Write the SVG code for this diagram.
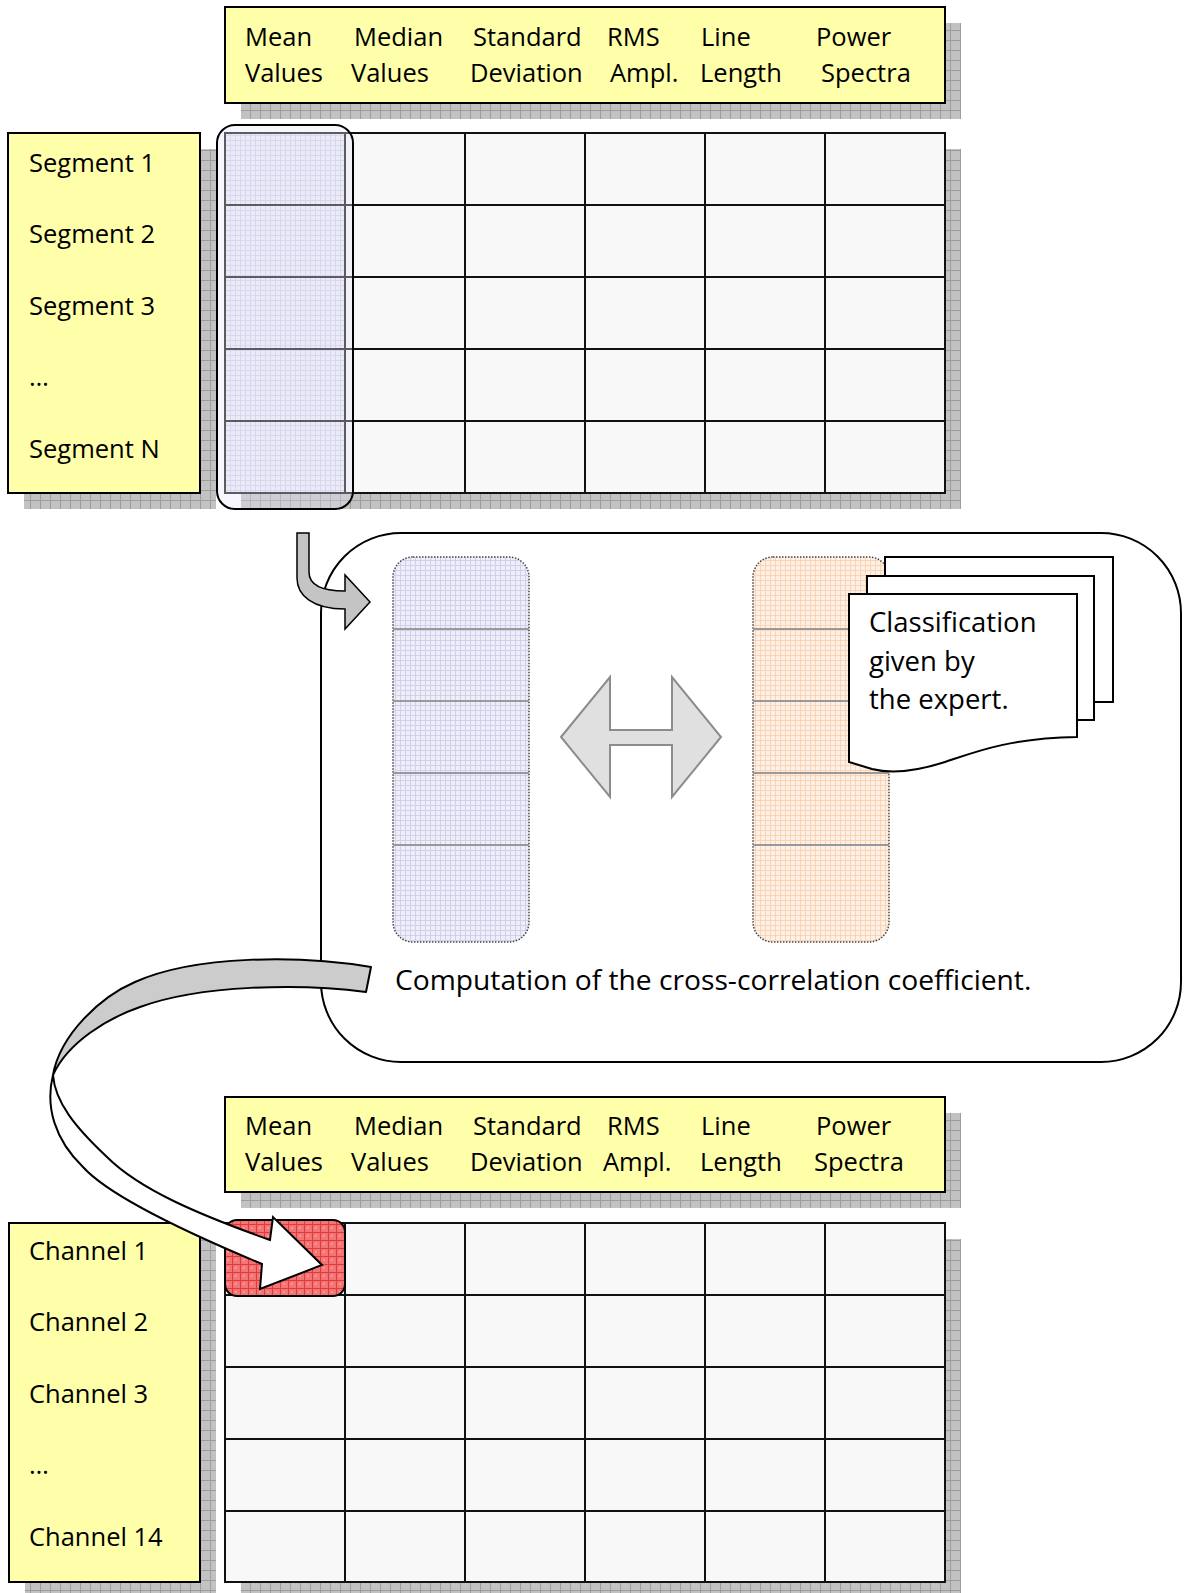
<svg xmlns="http://www.w3.org/2000/svg" width="1184" height="1593" viewBox="0 0 1184 1593">
  <style>
    .t{font-family:"Open Sans","Liberation Sans",sans-serif;font-size:25.5px;fill:#000}
    .tb{font-family:"Open Sans","Liberation Sans",sans-serif;font-size:27.5px;fill:#000}
    .box{fill:#ffffaa;stroke:#000;stroke-width:2}
    .shadow{fill:url(#shadowPat)}
    .cells{fill:#f8f8f8;stroke:#111;stroke-width:2}
    .grid{stroke:#111;stroke-width:2;fill:none}
    .sub{stroke:#999;stroke-width:2;fill:none}
    .page{fill:#fff;stroke:#000;stroke-width:2}
  </style>
  <defs>
    <pattern id="shadowPat" width="10" height="10" patternUnits="userSpaceOnUse">
      <rect width="10" height="10" fill="#c2c2c2"/>
      <path d="M0 0.5H10M0.5 0V10" stroke="#9c9c9c" stroke-width="1"/>
    </pattern>
    <pattern id="lavPat" width="5" height="5" patternUnits="userSpaceOnUse">
      <rect width="5" height="5" fill="#eeeef9"/>
      <path d="M0 0.5H5M0.5 0V5" stroke="#d0d0ec" stroke-width="1"/>
    </pattern>
    <pattern id="orPat" width="5" height="5" patternUnits="userSpaceOnUse">
      <rect width="5" height="5" fill="#fef0e4"/>
      <path d="M0 0.5H5M0.5 0V5" stroke="#fad4b6" stroke-width="1"/>
    </pattern>
    <pattern id="redPat" width="8" height="8" patternUnits="userSpaceOnUse">
      <rect width="8" height="8" fill="#f37474"/>
      <path d="M0 0.5H8M0.5 0V8" stroke="#e03a3a" stroke-width="1"/>
      <circle cx="4" cy="4" r="0.8" fill="#fbc8c8"/>
    </pattern>
  </defs>

  <!-- column headers, top table -->
  <g id="header-top">
    <rect class="shadow" x="241" y="23" width="720" height="96"/>
    <rect class="box" x="225" y="7" width="720" height="96"/>
    <text class="t" x="245" y="46">Mean</text>
    <text class="t" x="354" y="46">Median</text>
    <text class="t" x="473" y="46">Standard</text>
    <text class="t" x="607" y="46">RMS</text>
    <text class="t" x="701" y="46">Line</text>
    <text class="t" x="816" y="46">Power</text>
    <text class="t" x="245" y="82">Values</text>
    <text class="t" x="351" y="82">Values</text>
    <text class="t" x="470" y="82">Deviation</text>
    <text class="t" x="610" y="82">Ampl.</text>
    <text class="t" x="700" y="82">Length</text>
    <text class="t" x="821" y="82">Spectra</text>
  </g>

  <!-- row labels, top table -->
  <g id="segments">
    <rect class="shadow" x="24" y="149" width="192" height="360"/>
    <rect class="box" x="8" y="133" width="192" height="360"/>
    <text class="t" x="29" y="172">Segment 1</text>
    <text class="t" x="29" y="243">Segment 2</text>
    <text class="t" x="29" y="315">Segment 3</text>
    <text class="t" x="29" y="386">…</text>
    <text class="t" x="29" y="458">Segment N</text>
  </g>

  <!-- feature table, segments -->
  <g id="table-top">
    <rect class="shadow" x="241" y="149" width="720" height="360"/>
    <rect class="cells" x="225" y="133" width="720" height="360"/>
    <rect x="225" y="133" width="120" height="360" fill="url(#lavPat)"/>
    <path class="grid" d="M225 133H945V493H225ZM345 133V493M465 133V493M585 133V493M705 133V493M825 133V493M225 205H945M225 277H945M225 349H945M225 421H945"/>
  </g>

  <!-- selected column -->
  <g id="column-highlight">
    <rect x="217" y="125" width="136" height="384" rx="18" fill="#e4e4f6" fill-opacity="0.35" stroke="#000" stroke-width="2"/>
  </g>

  <!-- correlation step -->
  <g id="correlation">
    <rect x="321" y="533" width="860" height="529" rx="80" fill="#fff" stroke="#000" stroke-width="2"/>
    <g id="feature-column">
      <rect x="393" y="557" width="136" height="385" rx="20" fill="url(#lavPat)" stroke="#444" stroke-width="1.5" stroke-dasharray="1.5 1.5"/>
      <path class="sub" d="M393 629H529M393 701H529M393 773H529M393 845H529"/>
    </g>
    <g id="expert-column">
      <rect x="753" y="557" width="136" height="385" rx="20" fill="url(#orPat)" stroke="#444" stroke-width="1.5" stroke-dasharray="1.5 1.5"/>
      <path class="sub" d="M753 629H889M753 701H889M753 773H889M753 845H889"/>
    </g>
    <path id="compare-arrow" d="M561 737L610 677V730H672V677L721 737L672 797V745H610V797Z" fill="#e0e0e0" stroke="#8c8c8c" stroke-width="2" stroke-linejoin="miter"/>
    <g id="expert-docs">
      <rect class="page" x="885" y="557" width="228" height="145"/>
      <rect class="page" x="867" y="576" width="227" height="144"/>
      <path class="page" d="M849 594H1077V737C1010 738 975 752 945 762C920 770 895 775 872 769L849 762Z"/>
      <text class="tb" x="869" y="632">Classification</text>
      <text class="tb" x="869" y="671">given by</text>
      <text class="tb" x="869" y="709">the expert.</text>
    </g>
    <text class="tb" x="395" y="990" style="font-size:28.2px">Computation of the cross-correlation coefficient.</text>
  </g>

  <!-- column headers, bottom table -->
  <g id="header-bottom">
    <rect class="shadow" x="241" y="1113" width="720" height="95"/>
    <rect class="box" x="225" y="1097" width="720" height="95"/>
    <text class="t" x="245" y="1135">Mean</text>
    <text class="t" x="354" y="1135">Median</text>
    <text class="t" x="473" y="1135">Standard</text>
    <text class="t" x="607" y="1135">RMS</text>
    <text class="t" x="701" y="1135">Line</text>
    <text class="t" x="816" y="1135">Power</text>
    <text class="t" x="245" y="1171">Values</text>
    <text class="t" x="351" y="1171">Values</text>
    <text class="t" x="470" y="1171">Deviation</text>
    <text class="t" x="603" y="1171">Ampl.</text>
    <text class="t" x="700" y="1171">Length</text>
    <text class="t" x="814" y="1171">Spectra</text>
  </g>

  <!-- row labels, bottom table -->
  <g id="channels">
    <rect class="shadow" x="25" y="1239" width="191" height="360"/>
    <rect class="box" x="9" y="1223" width="191" height="359"/>
    <text class="t" x="29" y="1260">Channel 1</text>
    <text class="t" x="29" y="1331">Channel 2</text>
    <text class="t" x="29" y="1403">Channel 3</text>
    <text class="t" x="29" y="1474">…</text>
    <text class="t" x="29" y="1546">Channel 14</text>
  </g>

  <!-- feature table, channels -->
  <g id="table-bottom">
    <rect class="shadow" x="241" y="1239" width="720" height="360"/>
    <rect class="cells" x="225" y="1223" width="720" height="359"/>
    <path class="grid" d="M225 1223H945V1582H225ZM345 1223V1582M465 1223V1582M585 1223V1582M705 1223V1582M825 1223V1582M225 1295H945M225 1367H945M225 1439H945M225 1511H945"/>
  </g>

  <!-- resulting coefficient -->
  <g id="cell-highlight">
    <rect x="225" y="1220" width="120" height="76" rx="12" fill="url(#redPat)" stroke="#000" stroke-width="2"/>
  </g>

  <g id="connectors">
    <!-- column taken into the correlation step -->
    <path d="M297 533V578C297 595 312 609 345 609V629L370 602L345 575V591C328 591 309 588 309 572V533Z" fill="#c4c4c4" stroke="#000" stroke-width="1.5" stroke-linejoin="miter"/>
    <!-- coefficient written back into the channel table -->
    <path d="M371 967C300 955 195 955 135 982C100 997 60 1035 53 1075C68 1042 108 1018 140 1007C200 985 300 983 366 992Z" fill="#cccccc" stroke="#000" stroke-width="2" stroke-linejoin="round"/>
    <path d="M53 1075C45 1107 55 1140 83 1167C110 1197 190 1234 262 1264L260 1289L322 1265L273 1217L270 1240C200 1215 140 1190 107 1157C75 1127 55 1102 53 1075Z" fill="#fff" stroke="#000" stroke-width="2" stroke-linejoin="miter"/>
  </g>
</svg>
